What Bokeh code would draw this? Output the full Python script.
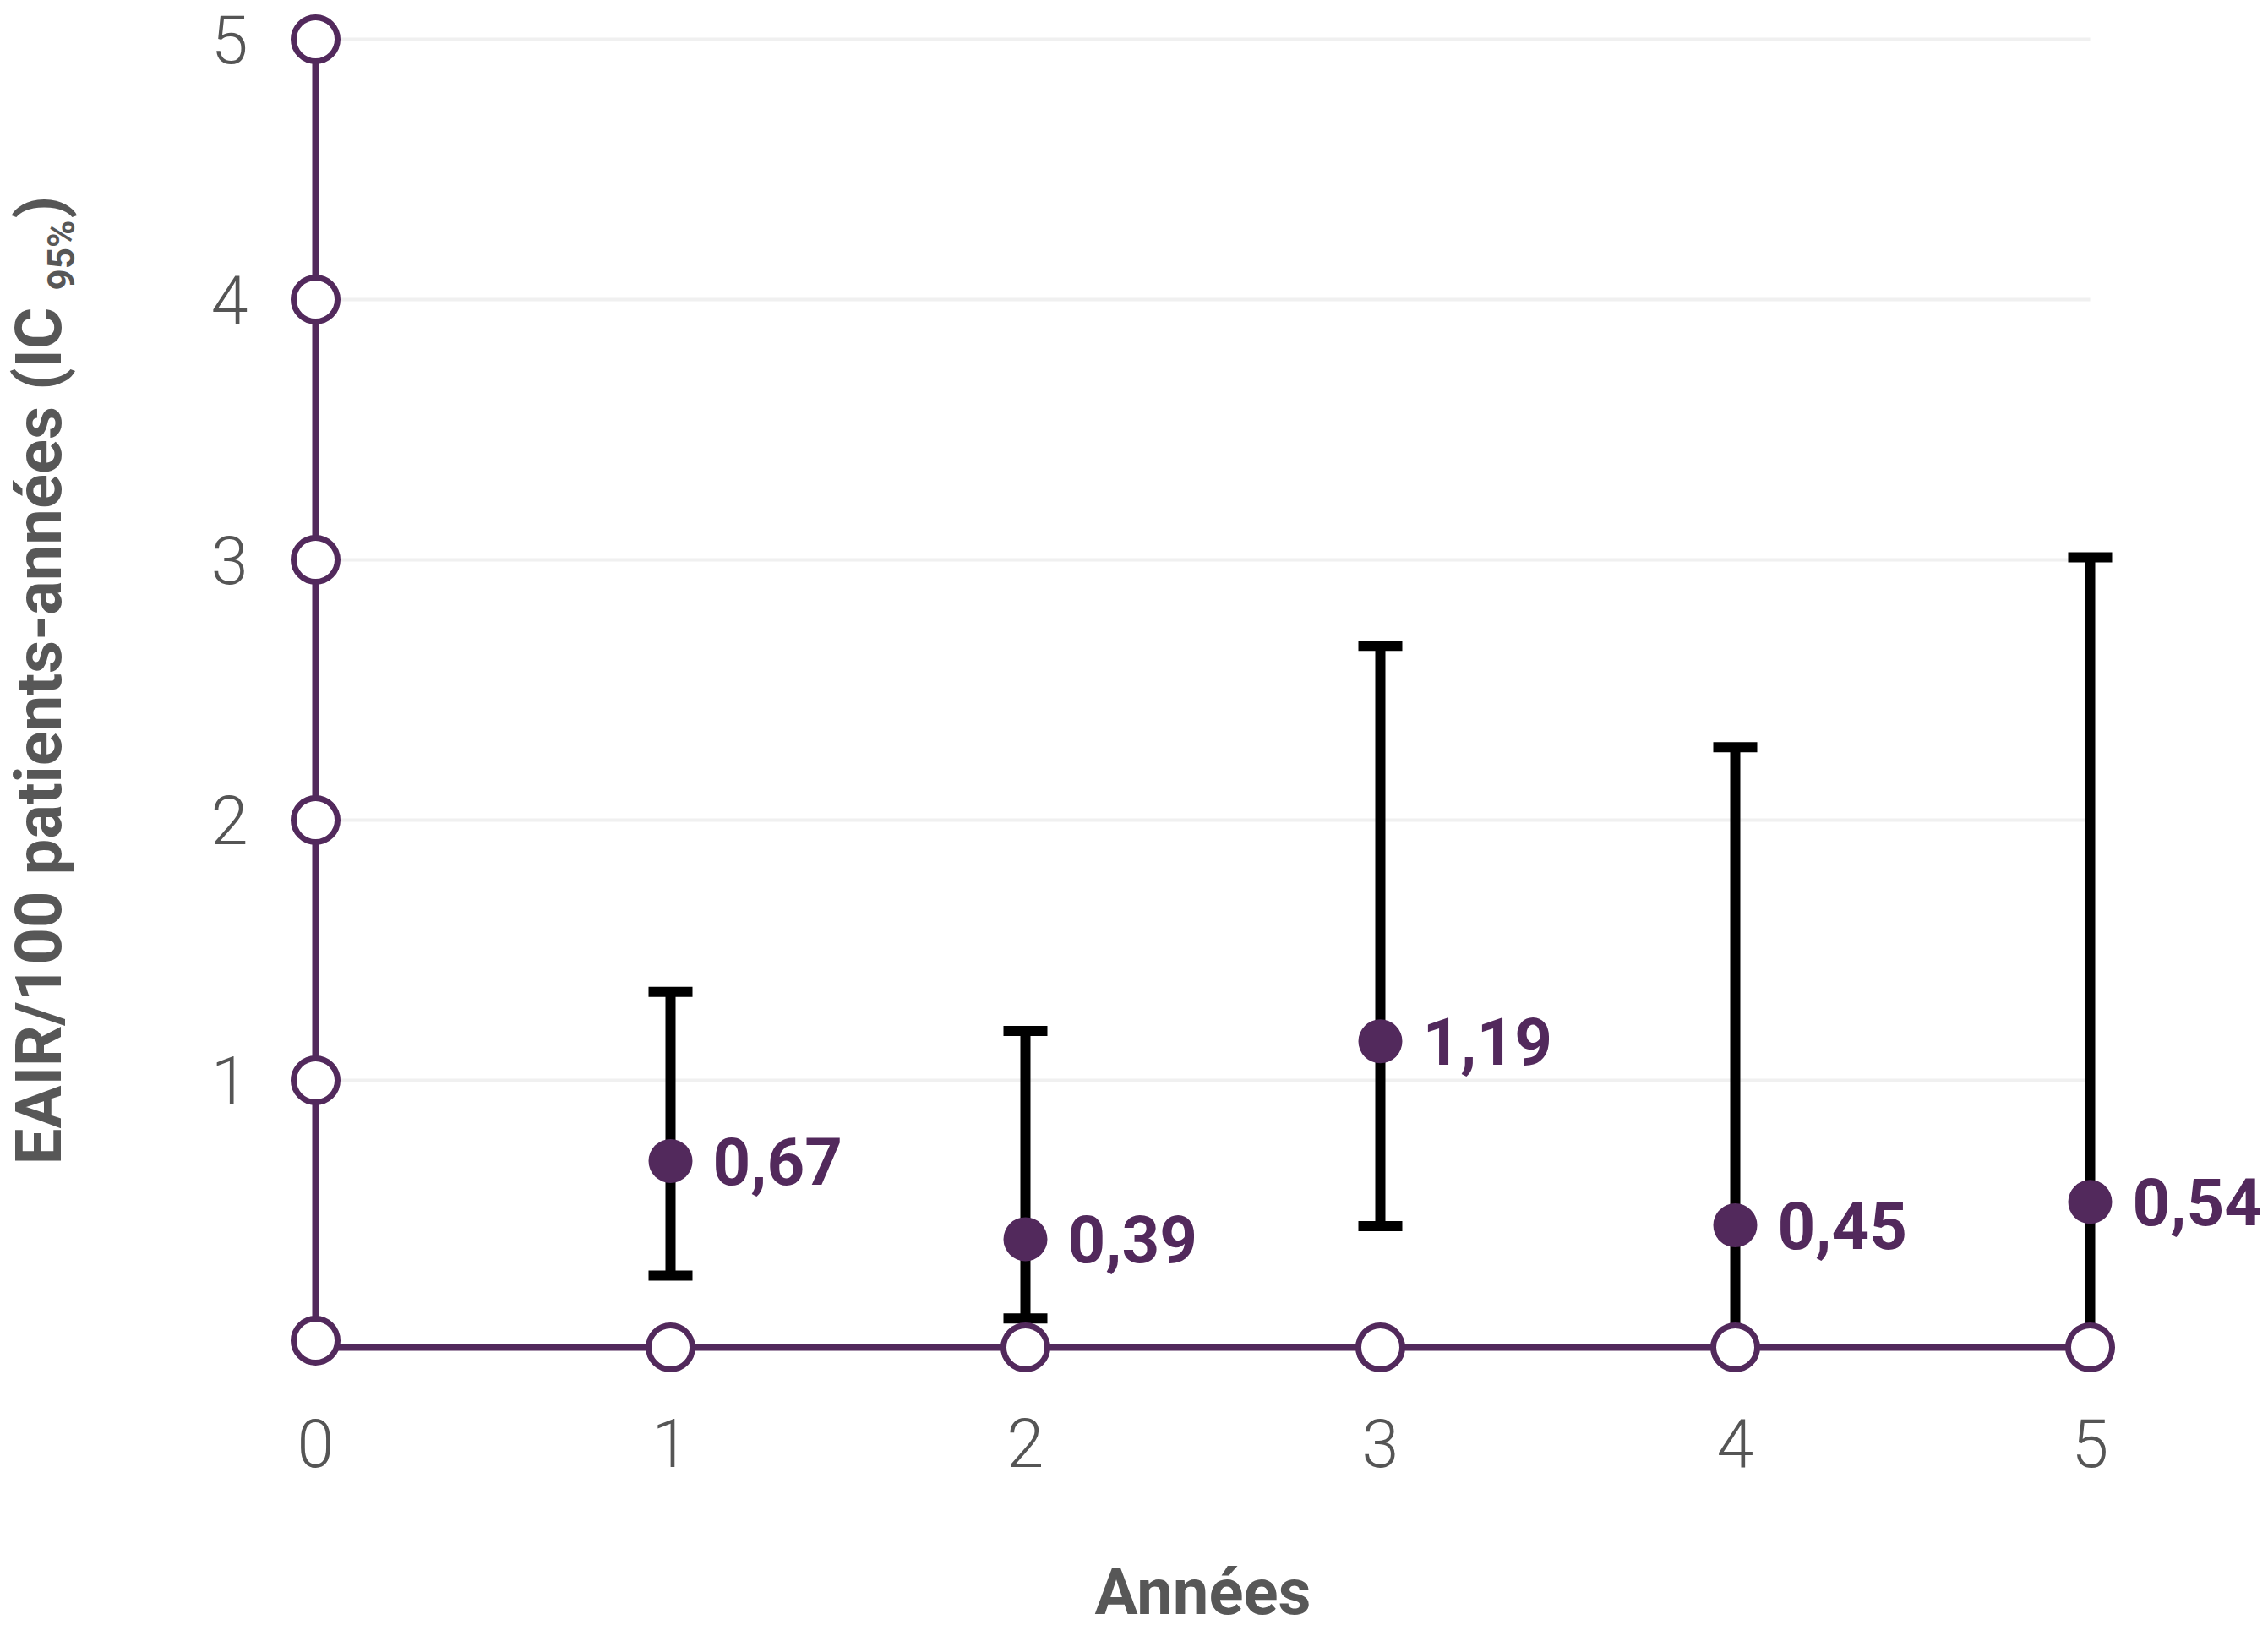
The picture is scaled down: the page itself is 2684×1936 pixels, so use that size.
import math
from bokeh.plotting import figure
from bokeh.models import Range1d
from bokeh.core.properties import value
from bokeh.embed import file_html
from bokeh.resources import INLINE

# ---------------- data ----------------
years = [1, 2, 3, 4, 5]
eair = [0.69, 0.39, 1.15, 0.443, 0.533]
eair_labels = ["0,67", "0,39", "1,19", "0,45", "0,54"]
ci_low = [0.25, 0.085, 0.44, 0.0, 0.0]
ci_high = [1.34, 1.19, 2.67, 2.28, 3.01]

x_ticks = [0, 1, 2, 3, 4, 5]
x_tick_labels = ["0", "1", "2", "3", "4", "5"]
y_ticks = [0, 1, 2, 3, 4, 5]
y_tick_labels = ["1", "2", "3", "4", "5"]
grid_values = [1, 2, 3, 4, 5]

x_title = "Années"
y_title_main = "EAIR/100 patients-années (IC"
y_title_sub = "95%"
y_title_end = ")"

# ---------------- layout / style ----------------
W, H = 2684, 1936
ORIGIN = 0             # page offset of the canvas
X0_PX, PX_PER_X = 373, 420
Y0_PX, PX_PER_Y = 1586, 308
BASE = -0.026          # x-axis line sits slightly below zero

PURPLE = "#52295c"
GREY = "#555555"
TITLE = "#575757"
GRID = "#f0f0f0"

def px_x(page_x):
    return (page_x - X0_PX) / PX_PER_X

def px_y(page_y):
    return (Y0_PX - page_y) / PX_PER_Y

p = figure(width=W, height=H,
           x_range=Range1d(px_x(ORIGIN), px_x(ORIGIN + W)),
           y_range=Range1d(px_y(ORIGIN + H), px_y(ORIGIN)),
           x_axis_location=None, y_axis_location=None,
           output_backend="svg", toolbar_location=None,
           min_border=0, outline_line_color=None,
           background_fill_color="white", border_fill_color="white")
p.xgrid.visible = False
p.ygrid.visible = False

# gridlines
p.segment(x0=[x_ticks[0]] * len(grid_values), y0=grid_values,
          x1=[x_ticks[-1]] * len(grid_values), y1=grid_values,
          line_color=GRID, line_width=4)

# error bars
p.segment(x0=years, y0=ci_low, x1=years, y1=ci_high,
          line_color="black", line_width=12)
p.rect(x=years + years, y=ci_high + ci_low, width=52, height=12,
       width_units="screen", height_units="screen",
       fill_color="black", line_color=None)

# axis lines
p.segment(x0=[0], y0=[y_ticks[0]], x1=[0], y1=[y_ticks[-1]],
          line_color=PURPLE, line_width=8)
p.segment(x0=[x_ticks[0]], y0=[BASE], x1=[x_ticks[-1]], y1=[BASE],
          line_color=PURPLE, line_width=8)

# axis circles
p.scatter(x=[0] * len(y_ticks), y=y_ticks, size=52, marker="circle",
          fill_color="white", line_color=PURPLE, line_width=7)
p.scatter(x=x_ticks[1:], y=[BASE] * (len(x_ticks) - 1), size=52, marker="circle",
          fill_color="white", line_color=PURPLE, line_width=7)

# points
p.scatter(x=years, y=eair, size=52, marker="circle",
          fill_color=PURPLE, line_color=None)

# value labels
p.text(x=years, y=eair, text=eair_labels, x_offset=50,
       text_align="left", text_baseline="middle",
       text_font=value("Roboto"), text_font_style="bold",
       text_font_size="78px", text_color=PURPLE)

# tick labels
p.text(x=[0] * len(y_tick_labels), y=y_ticks[1:], text=y_tick_labels,
       x_offset=-80, text_align="right", text_baseline="middle",
       text_font=value("Roboto Light"), text_font_size="79px", text_color=GREY)
p.text(x=x_ticks, y=[0] * len(x_ticks), text=x_tick_labels,
       y_offset=121, text_align="center", text_baseline="middle",
       text_font=value("Roboto Light"), text_font_size="79px", text_color=GREY)

# axis titles
p.text(x=[(x_ticks[0] + x_ticks[-1]) / 2], y=[px_y(1883)], text=[x_title],
       text_align="center", text_baseline="middle",
       text_font=value("Roboto"), text_font_style="bold",
       text_font_size="76px", text_color=TITLE)

p.text(x=[px_x(45)], y=[px_y(363)], text=[y_title_main], angle=math.pi / 2,
       text_align="right", text_baseline="middle",
       text_font=value("Roboto"), text_font_style="bold",
       text_font_size="76px", text_color=TITLE)
p.text(x=[px_x(72)], y=[px_y(343)], text=[y_title_sub], angle=math.pi / 2,
       text_align="left", text_baseline="middle",
       text_font=value("Roboto"), text_font_style="bold",
       text_font_size="44px", text_color=TITLE)
p.text(x=[px_x(47)], y=[px_y(258)], text=[y_title_end], angle=math.pi / 2,
       text_align="left", text_baseline="middle",
       text_font=value("Roboto"), text_font_style="bold",
       text_font_size="76px", text_color=TITLE)

open("out.html", "w").write(file_html(p, INLINE))
